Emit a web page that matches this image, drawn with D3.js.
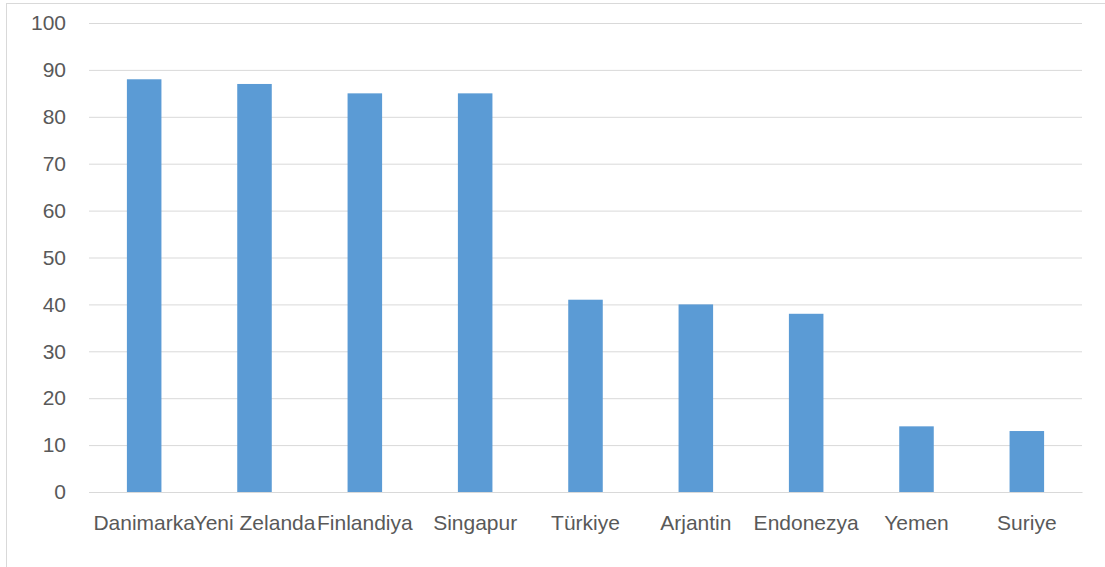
<!DOCTYPE html>
<html>
<head>
<meta charset="utf-8">
<script src="https://cdn.jsdelivr.net/npm/d3@7"></script>
<style>
  html, body { margin: 0; padding: 0; background: #ffffff; }
  svg { display: block; }
  text { font-family: "Liberation Sans", Arial, sans-serif; fill: #595959; }
</style>
</head>
<body>
<svg id="chart" width="1105" height="567"></svg>
<script>
// Countries and their scores
const categories = ["Danimarka", "Yeni Zelanda", "Finlandiya", "Singapur", "Türkiye", "Arjantin", "Endonezya", "Yemen", "Suriye"];
const values = [88, 87, 85, 85, 41, 40, 38, 14, 13];
const yTicks = [0, 10, 20, 30, 40, 50, 60, 70, 80, 90, 100];

const svg = d3.select("#chart");
const W = 1105, H = 567;
const margin = { left: 89, right: 23, top: 23, bottom: 75 };

// Chart frame
svg.append("rect")
  .attr("x", 6.5).attr("y", 3.5)
  .attr("width", W - 4).attr("height", H + 4)
  .attr("fill", "#ffffff")
  .attr("stroke", "#d9d9d9").attr("stroke-width", 1);

const x = d3.scaleBand()
  .domain(categories)
  .range([margin.left, W - margin.right])
  .paddingInner(0.687)
  .paddingOuter(0.3435);

const y = d3.scaleLinear()
  .domain([0, 100])
  .range([H - margin.bottom, margin.top]);

// Horizontal gridlines and value labels
const yAxis = d3.axisLeft(y)
  .tickValues(yTicks)
  .tickSize(-(W - margin.left - margin.right))
  .tickPadding(23)
  .tickFormat(d3.format("d"));

const gy = svg.append("g")
  .attr("transform", `translate(${margin.left},0)`)
  .call(yAxis);
gy.select(".domain").remove();
gy.selectAll(".tick line").attr("stroke", "#d9d9d9").attr("stroke-width", 1);
gy.selectAll(".tick text").attr("font-size", 21).style("fill", "#595959");

// Bars
svg.append("g")
  .selectAll("rect")
  .data(categories)
  .join("rect")
  .attr("x", d => x(d))
  .attr("width", x.bandwidth())
  .attr("y", (d, i) => y(values[i]))
  .attr("height", (d, i) => y(0) - y(values[i]))
  .attr("fill", "#5b9bd5");

// Category axis
const xAxis = d3.axisBottom(x).tickSize(0).tickPadding(23);
const gx = svg.append("g")
  .attr("transform", `translate(0,${y(0)})`)
  .call(xAxis);
gx.select(".domain").attr("stroke", "#d9d9d9");
gx.selectAll(".tick text").attr("font-size", 21).style("fill", "#595959");
</script>
</body>
</html>
